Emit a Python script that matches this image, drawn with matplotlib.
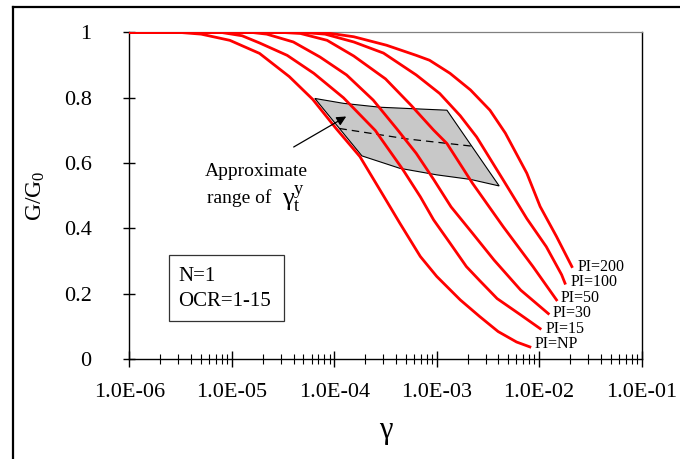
import matplotlib
matplotlib.use("Agg")
import numpy as np
import matplotlib.pyplot as plt
from matplotlib.ticker import LogLocator, NullFormatter
from matplotlib.patches import Polygon, Rectangle
from matplotlib.lines import Line2D

plt.rcParams['font.family'] = ['Liberation Serif', 'DejaVu Serif']
plt.rcParams['mathtext.fontset'] = 'custom'
plt.rcParams['mathtext.rm'] = 'Liberation Serif'
plt.rcParams['mathtext.it'] = 'Liberation Serif:italic'

# ------------------------------
# data (log10 of shear strain, G/G0)
# ------------------------------
np_logg = [-6.0, -5.5, -5.3, -5.02, -4.73, -4.44, -4.21, -3.98, -3.75, -3.52, -3.36,
           -3.16, -3.0, -2.77, -2.58, -2.4, -2.22, -2.09]
np_gg = [1.0, 1.0, 0.995, 0.976, 0.936, 0.865, 0.795, 0.705, 0.62, 0.5, 0.416,
         0.314, 0.253, 0.181, 0.13, 0.084, 0.052, 0.037]

pi15_logg = [-6.0, -5.1, -4.9, -4.73, -4.46, -4.2, -3.91, -3.6, -3.33, -3.16, -3.03,
             -2.87, -2.71, -2.58, -2.41, -2.18, -1.99]
pi15_gg = [1.0, 1.0, 0.99, 0.968, 0.93, 0.875, 0.80, 0.70, 0.58, 0.497, 0.426,
           0.355, 0.283, 0.24, 0.185, 0.135, 0.093]

pi30_logg = [-6.0, -4.8, -4.66, -4.4, -4.14, -3.88, -3.62, -3.39, -3.2, -3.03, -2.86,
             -2.65, -2.44, -2.18, -1.91]
pi30_gg = [1.0, 1.0, 0.995, 0.971, 0.925, 0.87, 0.793, 0.705, 0.63, 0.55, 0.466,
           0.385, 0.303, 0.211, 0.139]

pi50_logg = [-6.0, -4.5, -4.33, -4.07, -3.81, -3.5, -3.25, -3.03, -2.9, -2.65, -2.35,
             -2.06, -1.83]
pi50_gg = [1.0, 1.0, 0.997, 0.976, 0.928, 0.858, 0.777, 0.701, 0.66, 0.538, 0.405,
           0.283, 0.181]

pi100_logg = [-6.0, -4.3, -4.09, -3.81, -3.52, -3.2, -2.97, -2.77, -2.61, -2.35, -2.12,
              -1.93, -1.78, -1.747]
pi100_gg = [1.0, 1.0, 0.995, 0.971, 0.937, 0.87, 0.813, 0.745, 0.68, 0.548, 0.43,
            0.344, 0.258, 0.232]

pi200_logg = [-6.0, -4.1, -3.81, -3.49, -3.2, -3.07, -2.87, -2.67, -2.48, -2.33, -2.12,
              -1.99, -1.83, -1.68]
pi200_gg = [1.0, 1.0, 0.987, 0.961, 0.93, 0.915, 0.875, 0.824, 0.762, 0.692, 0.569,
            0.467, 0.375, 0.283]

curve_labels = ["PI=NP", "PI=15", "PI=30", "PI=50", "PI=100", "PI=200"]
label_logg = [-2.04, -1.94, -1.867, -1.786, -1.69, -1.62]
label_gg = [0.046, 0.092, 0.142, 0.186, 0.235, 0.282]

# range of yield strain (shaded area)
zone_logg = [-4.19, -3.91, -3.55, -2.90, -2.39, -2.67, -3.00, -3.36, -3.73]
zone_gg = [0.798, 0.783, 0.771, 0.762, 0.530, 0.550, 0.564, 0.584, 0.622]
mid_logg = [-3.95, -3.29, -2.66]
mid_gg = [0.706, 0.674, 0.652]

xtick_vals = [1e-6, 1e-5, 1e-4, 1e-3, 1e-2, 1e-1]
xtick_labels = ["1.0E-06", "1.0E-05", "1.0E-04", "1.0E-03", "1.0E-02", "1.0E-01"]
ytick_vals = [0, 0.2, 0.4, 0.6, 0.8, 1]
ytick_labels = ["0", "0.2", "0.4", "0.6", "0.8", "1"]

# ------------------------------
# figure
# ------------------------------
fig = plt.figure(figsize=(6.8, 4.59), dpi=100)
ax = fig.add_axes([0.1904, 0.2179, 0.753, 0.7113])

curves = [(np_logg, np_gg), (pi15_logg, pi15_gg), (pi30_logg, pi30_gg),
          (pi50_logg, pi50_gg), (pi100_logg, pi100_gg), (pi200_logg, pi200_gg)]

zone = Polygon(list(zip(10.0 ** np.array(zone_logg), zone_gg)), closed=True,
               facecolor="#c8c8c8", edgecolor="black", linewidth=0.8, zorder=1)
ax.add_patch(zone)
ax.plot(10.0 ** np.array(mid_logg), mid_gg, color="black", linestyle=(0, (6, 4)),
        linewidth=0.9, zorder=2)

for (lg, gg) in curves:
    ax.plot(10.0 ** np.array(lg), gg, color="red", linewidth=2.0, zorder=3,
            solid_joinstyle="round")

for lab, lx, ly in zip(curve_labels, label_logg, label_gg):
    ax.text(10.0 ** lx, ly, lab, fontsize=11.5, ha="left", va="center", zorder=4)

ax.annotate("", xy=(10 ** -3.86, 0.747), xytext=(10 ** -4.42, 0.645),
            arrowprops=dict(arrowstyle="-|>", color="black", lw=0.9,
                            mutation_scale=14), zorder=5)

ax.text(10 ** -4.76, 0.573, "Approximate", fontsize=14, ha="center", va="center")
ax.text(10 ** -4.61, 0.492, "range of", fontsize=14, ha="right", va="center")
ax.text(10 ** -4.51, 0.49, r"$\mathrm{\gamma}_{\mathrm{t}}^{\mathrm{y}}$",
        fontsize=19, ha="left", va="center")

ax.add_patch(Rectangle((0.077, 0.115), 0.225, 0.202, transform=ax.transAxes,
                       facecolor="white", edgecolor="#333333", linewidth=0.9, zorder=4))
ax.text(0.095, 0.253, "N=1", transform=ax.transAxes, fontsize=15,
        ha="left", va="center", zorder=5)
ax.text(0.095, 0.176, "OCR=1-15", transform=ax.transAxes, fontsize=15,
        ha="left", va="center", zorder=5)

ax.set_xscale("log")
ax.set_xlim(1e-6, 1e-1)
ax.set_ylim(0, 1)
ax.set_xticks(xtick_vals)
ax.set_xticklabels(xtick_labels)
ax.xaxis.set_minor_locator(LogLocator(base=10, subs=np.arange(2, 10)))
ax.xaxis.set_minor_formatter(NullFormatter())
ax.set_yticks(ytick_vals)
ax.set_yticklabels(ytick_labels)

ax.tick_params(axis="x", which="major", direction="inout", length=11, width=1,
               labelsize=16, pad=12)
ax.tick_params(axis="x", which="minor", direction="inout", length=7, width=0.8)
ax.tick_params(axis="y", which="major", direction="inout", length=8.5, width=1,
               labelsize=16, pad=23)
ax.tick_params(axis="y", which="minor", left=False)

for side in ["left", "bottom", "right"]:
    ax.spines[side].set_color("black")
    ax.spines[side].set_linewidth(1.0)
ax.spines["top"].set_color("#808080")
ax.spines["top"].set_linewidth(0.9)

ax.set_xlabel("γ", fontsize=22, labelpad=10)
ax.set_ylabel("G/G$_0$", fontsize=17, labelpad=12)

# outer frame (top and left edges visible)
fig.add_artist(Line2D([13 / 680, 1.0], [1 - 7 / 459, 1 - 7 / 459],
                      transform=fig.transFigure, color="black", linewidth=1.6))
fig.add_artist(Line2D([13 / 680, 13 / 680], [0.0, 1 - 7 / 459],
                      transform=fig.transFigure, color="black", linewidth=1.6))

fig.savefig("out.png", dpi=100)
plt.close(fig)
